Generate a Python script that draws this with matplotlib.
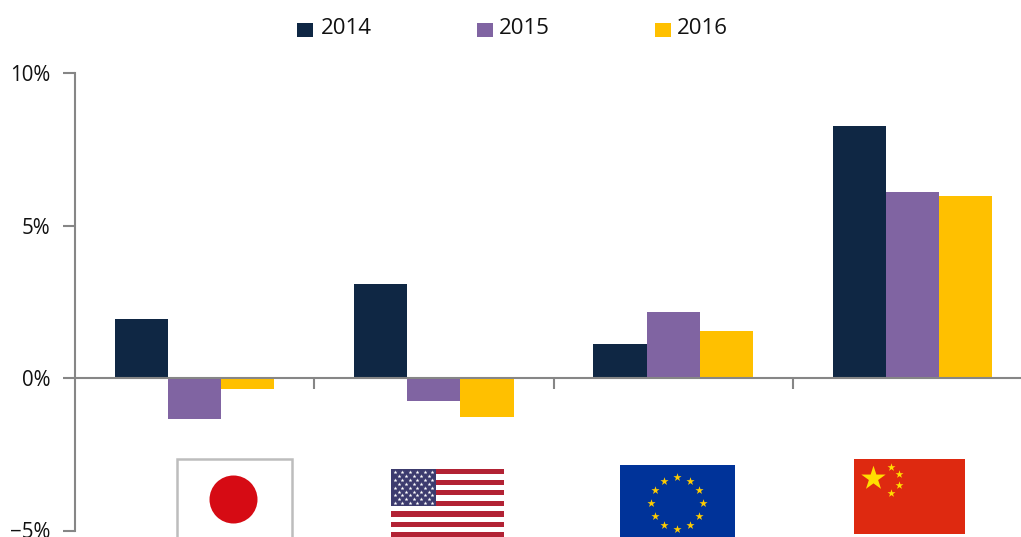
# coding=utf-8

import matplotlib
matplotlib.use('Agg')
import matplotlib.pyplot as plt
import numpy as np
from matplotlib.patches import Circle, Rectangle

plt.rcParams['font.family'] = ['Open Sans', 'DejaVu Sans']

regions = ['Japan', 'US', 'Euro area', 'China']
years = ['2014', '2015', '2016']
values_2014 = [1.92, 3.08, 1.13, 8.27]
values_2015 = [-1.33, -0.75, 2.18, 6.10]
values_2016 = [-0.36, -1.27, 1.53, 5.98]
y_ticks = [-5, 0, 5, 10]

colors = ['#0F2744', '#8064A2', '#FFC000']
W, H = 1021, 537
GREY = '#868686'


def japan(ov):
	ov.add_patch(Rectangle((177, 459), 115, 90, fc='white', ec='#BDBDBD', lw=1.8))
	ov.add_patch(Circle((233.5, 499.5), 24, fc='#D60B14', ec='none'))


def usa(ov):
	for k in range(7):
		top = 469 + k * 10.55
		ov.add_patch(Rectangle((391, top), 113, 5.3, fc='#B22234', ec='none'))
	ov.add_patch(Rectangle((391, 469), 45, 37, fc='#3C3B6E', ec='none'))
	xs, ys = [], []
	for row in range(9):
		count = 6 if row % 2 == 0 else 5
		off = 0 if row % 2 == 0 else 3.75
		for col in range(count):
			xs.append(394.8 + off + col * 7.5)
			ys.append(472 + row * 3.9)
	ov.scatter(xs, ys, marker='*', s=9, c='white', linewidths=0)


def europe(ov):
	ov.add_patch(Rectangle((620, 465), 115, 72, fc='#003399', ec='none'))
	ang = np.arange(12) * np.pi / 6
	ov.scatter(677 + 25.7 * np.cos(ang), 503 + 25.7 * np.sin(ang), marker='*',
		s=38, c='#FFCC00', linewidths=0)


def china(ov):
	ov.add_patch(Rectangle((854, 459), 111, 75, fc='#DE2910', ec='none'))
	ov.scatter([873], [478], marker='*', s=340, c='#FFDE00', linewidths=0)
	ov.scatter([891, 899, 899, 891], [467, 474, 485, 493], marker='*', s=36,
		c='#FFDE00', linewidths=0)


fig = plt.figure(figsize=(W / 100, H / 100), dpi=100)
ax = fig.add_axes([75 / W, (H - 530.5) / H, 957 / W, 457.5 / H])

index = np.arange(len(regions))
bar_width = 0.222
series = [values_2014, values_2015, values_2016]
for i, vals in enumerate(series):
	ax.bar(index + (i - 1) * bar_width, vals, bar_width, color=colors[i], zorder=2)

ax.set_xlim(-0.5, 3.5)
ax.set_ylim(-5, 10)
ax.set_yticks(y_ticks)
ax.set_yticklabels(['%d%%' % v if v >= 0 else '\u2212%d%%' % -v for v in y_ticks],
	fontsize=14.8, color='#111111')
ax.set_xticks([0.5, 1.5, 2.5])
ax.set_xticklabels([])
ax.tick_params(axis='y', length=9, width=1.5, color=GREY, pad=8.5)
ax.tick_params(axis='x', length=8, width=1.5, color=GREY)

ax.spines['top'].set_visible(False)
ax.spines['right'].set_visible(False)
ax.spines['left'].set_color(GREY)
ax.spines['left'].set_linewidth(1.5)
ax.spines['bottom'].set_position(('data', 0))
ax.spines['bottom'].set_color(GREY)
ax.spines['bottom'].set_linewidth(1.5)
ax.spines['bottom'].set_zorder(3)

# overlay in pixel coordinates for the legend and the flags
ov = fig.add_axes([0, 0, 1, 1])
ov.set_xlim(0, W)
ov.set_ylim(H, 0)
ov.axis('off')
ov.patch.set_alpha(0)

box_x = [297, 477, 655]
text_x = [321, 499, 677]
for i, year in enumerate(years):
	ov.add_patch(Rectangle((box_x[i], 23), 16, 14, fc=colors[i], ec='none'))
	ov.text(text_x[i], 29, year, fontsize=16, color='#111111', va='center', ha='left')

japan(ov)
usa(ov)
europe(ov)
china(ov)

fig.savefig('out.png', dpi=100)
